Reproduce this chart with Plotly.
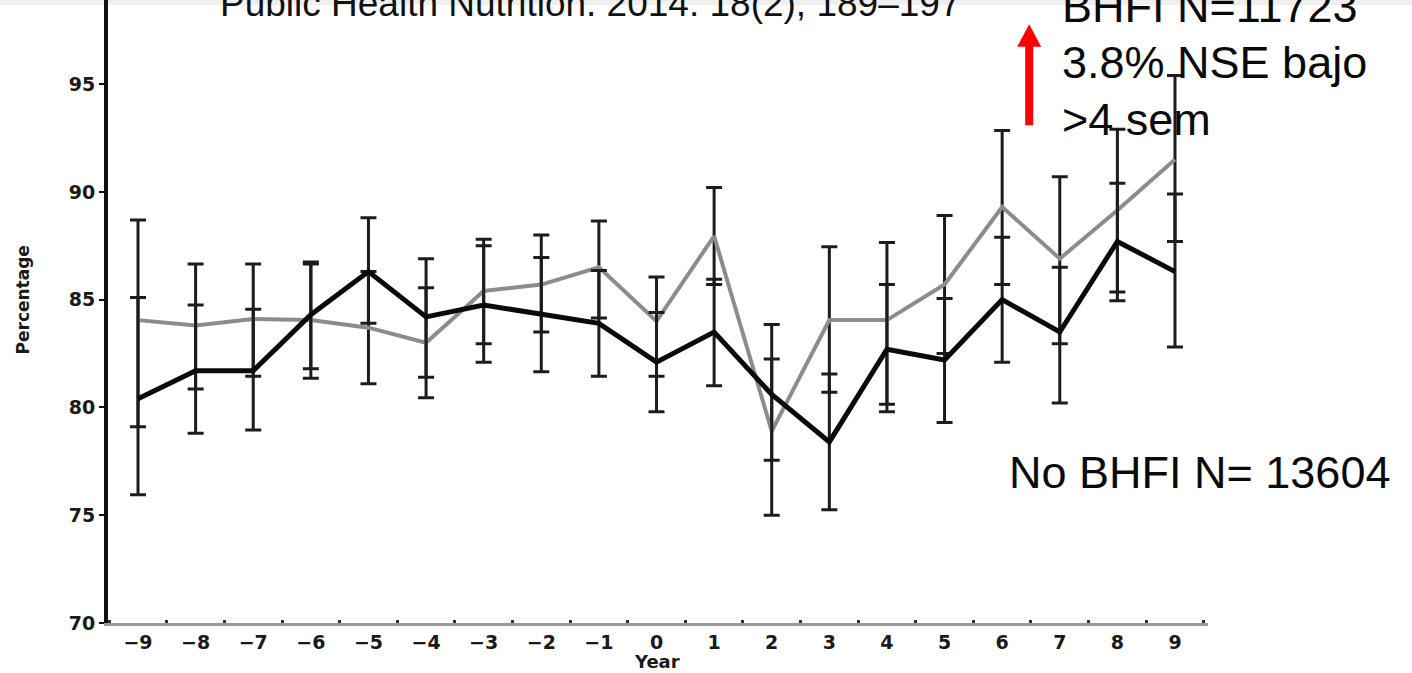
import plotly.graph_objects as go

years = [-9, -8, -7, -6, -5, -4, -3, -2, -1, 0, 1, 2, 3, 4, 5, 6, 7, 8, 9]

# BHFI (grey line)
bhfi = [84.05, 83.8, 84.1, 84.05, 83.7, 83.0, 85.4, 85.7, 86.5, 84.0, 87.95, 78.9, 84.05, 84.05, 85.7, 89.3, 86.9, 89.15, 91.5]
bhfi_up = [4.65, 2.85, 2.55, 2.6, 2.6, 2.55, 2.4, 2.3, 2.15, 2.05, 2.25, 3.35, 3.4, 3.6, 3.2, 3.55, 3.8, 3.75, 3.9]
bhfi_dn = [4.95, 2.95, 2.65, 2.7, 2.6, 2.55, 2.45, 2.2, 2.35, 2.55, 2.25, 3.9, 3.35, 3.9, 3.2, 3.6, 3.95, 3.8, 3.8]

# No BHFI (black line)
nobhfi = [80.4, 81.7, 81.7, 84.3, 86.3, 84.2, 84.75, 84.3, 83.9, 82.1, 83.5, 80.6, 78.4, 82.7, 82.2, 85.0, 83.5, 87.7, 86.3]
nobhfi_up = [4.7, 3.05, 2.85, 2.45, 2.5, 2.7, 2.75, 2.65, 2.45, 2.3, 2.45, 3.25, 3.15, 3.0, 2.85, 2.9, 3.0, 2.7, 3.6]
nobhfi_dn = [4.45, 2.9, 2.75, 2.5, 2.4, 2.8, 2.65, 2.65, 2.45, 2.3, 2.5, 3.05, 3.15, 2.9, 2.9, 2.9, 3.3, 2.75, 3.5]

y_ticks = [70, 75, 80, 85, 90, 95]

TICKFONT = dict(family="DejaVu Sans", size=19, color="#1a1a1a", weight="bold")
ERR = "#1c1c1c"

fig = go.Figure()
fig.add_trace(go.Scatter(
    x=years, y=bhfi, mode="lines", name="BHFI",
    line=dict(color="#8c8c8c", width=4),
    error_y=dict(type="data", symmetric=False, array=bhfi_up, arrayminus=bhfi_dn,
                 color=ERR, thickness=3, width=8),
))
fig.add_trace(go.Scatter(
    x=years, y=nobhfi, mode="lines", name="No BHFI",
    line=dict(color="#0a0a0a", width=5),
    error_y=dict(type="data", symmetric=False, array=nobhfi_up, arrayminus=nobhfi_dn,
                 color=ERR, thickness=3, width=8),
))

fig.update_layout(
    width=1412, height=673,
    margin=dict(l=108, r=204, t=0, b=50, pad=0),
    paper_bgcolor="white", plot_bgcolor="white",
    showlegend=False,
    xaxis=dict(
        range=[-9.521, 9.573], tickvals=years, showgrid=False, zeroline=False,
        showline=True, linecolor="#9a9a9a", linewidth=3,
        ticks="", ticklabelstandoff=0,
        tickfont=TICKFONT,
        minor=dict(tick0=-9.5, dtick=1, ticks="inside", ticklen=3, tickwidth=3, tickcolor="#333333"),
    ),
    yaxis=dict(
        range=[70, 98.9], tickvals=y_ticks, showgrid=False, zeroline=False,
        showline=True, linecolor="#111111", linewidth=4,
        ticks="outside", ticklen=5, tickwidth=2, tickcolor="#111111",
        ticklabelstandoff=0,
        tickfont=TICKFONT,
    ),
)

# light band at the top of the slide
fig.add_shape(type="rect", xref="paper", yref="paper", x0=-0.2, x1=1.3, y0=0.992, y1=1.0,
              fillcolor="#efefef", line=dict(width=0), layer="below")

# red arrow (shaft + head)
ax_x = 6.469
hw = 0.208
sw = 0.07
fig.add_shape(type="rect", xref="x", yref="y", x0=ax_x - sw, x1=ax_x + sw, y0=93.09, y1=96.8,
              fillcolor="#ff0000", line=dict(width=0))
fig.add_shape(type="path", xref="x", yref="y",
              path=f"M {ax_x - hw} 96.73 L {ax_x + hw} 96.73 L {ax_x} 97.78 Z",
              fillcolor="#ff0000", line=dict(width=0))

TXT = dict(family="Liberation Sans", size=45, color="#0a0a0a")
for txt, yy in [("BHFI N=11723", 98.62), ("3.8% NSE bajo", 96.0), (">4 sem", 93.38)]:
    fig.add_annotation(x=7.0, y=yy, xref="x", yref="y", text=txt, showarrow=False,
                       xanchor="left", yanchor="middle", font=TXT)
fig.add_annotation(x=6.08, y=76.96, xref="x", yref="y", text="No BHFI N= 13604", showarrow=False,
                   xanchor="left", yanchor="middle", font=TXT)

fig.add_annotation(x=-1.153, y=98.75, xref="x", yref="y",
                   text="Public Health Nutrition. 2014: 18(2), 189–197", showarrow=False,
                   xanchor="center", yanchor="middle",
                   font=dict(family="Liberation Sans", size=37, color="#111111"))

fig.add_annotation(x=0.0, y=-0.0625, xref="x", yref="paper", text="Year", showarrow=False,
                   xanchor="center", yanchor="middle",
                   font=dict(family="DejaVu Sans", size=18, color="#1a1a1a", weight="bold"))
fig.add_annotation(x=-0.0771, y=0.518, xref="paper", yref="paper", text="Percentage", showarrow=False,
                   textangle=-90, xanchor="center", yanchor="middle",
                   font=dict(family="DejaVu Sans", size=17, color="#1a1a1a", weight="bold"))

fig.write_html("out.html")
